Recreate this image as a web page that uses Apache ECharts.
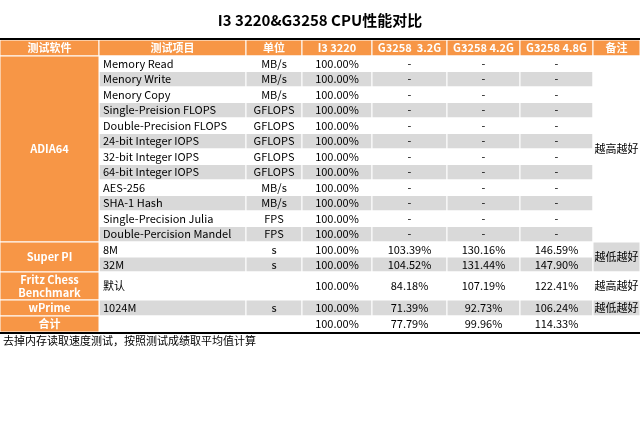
<!DOCTYPE html>
<html><head><meta charset="utf-8">
<script src="https://cdn.jsdelivr.net/npm/echarts@6/dist/echarts.min.js"></script>
<style>body{margin:0;background:#fff}#c{width:640px;height:427px}</style>
</head><body><div id="c"></div>
<script>
const title = "I3 3220&G3258 CPU性能对比";
const headers = ["测试软件", "测试项目", "单位", "I3 3220", "G3258  3.2G", "G3258 4.2G", "G3258 4.8G", "备注"];
const items = ["Memory Read", "Menory Write", "Menory Copy", "Single-Preision FLOPS", "Double-Precision FLOPS",
  "24-bit Integer IOPS", "32-bit Integer IOPS", "64-bit Integer IOPS", "AES-256", "SHA-1 Hash",
  "Single-Precision Julia", "Double-Percision Mandel", "8M", "32M", "默认", "1024M", ""];
const units = ["MB/s", "MB/s", "MB/s", "GFLOPS", "GFLOPS", "GFLOPS", "GFLOPS", "GFLOPS", "MB/s", "MB/s", "FPS", "FPS", "s", "s", "", "s", ""];
const i3 = Array(17).fill("100.00%");
const g32 = ["-", "-", "-", "-", "-", "-", "-", "-", "-", "-", "-", "-", "103.39%", "104.52%", "84.18%", "71.39%", "77.79%"];
const g42 = ["-", "-", "-", "-", "-", "-", "-", "-", "-", "-", "-", "-", "130.16%", "131.44%", "107.19%", "92.73%", "99.96%"];
const g48 = ["-", "-", "-", "-", "-", "-", "-", "-", "-", "-", "-", "-", "146.59%", "147.90%", "122.41%", "106.24%", "114.33%"];
// groups: [name, first row, row count, note]
const groups = [["ADIA64", 0, 12, "越高越好"], ["Super PI", 12, 2, "越低越好"], ["Fritz Chess\nBenchmark", 14, 1, "越高越好"],
  ["wPrime", 15, 1, "越低越好"], ["合计", 16, 1, ""]];
const footnote = "去掉内存读取速度测试，按照测试成绩取平均值计算";

const colX = [0, 99, 246, 302, 372, 447, 520, 593, 640];
const rowH = [15.5,15.5,15.5,15.5,15.5,15.5,15.5,15.5,15.5,15.5,15.5,15.5, 15, 15, 28, 16, 16];
const top0 = 56, headTop = 40;
const rowY = [top0];
rowH.forEach((h, i) => rowY.push(rowY[i] + h));
const orange = "#f79646", gray = "#d9d9d9";
const font = "'Noto Sans CJK SC', sans-serif";
const els = [];
function cell(x0, x1, y0, y1, fill, text, opt) {
  opt = opt || {};
  els.push({ type: "rect", shape: { x: x0, y: y0, width: x1 - x0, height: y1 - y0 },
    style: { fill: fill, stroke: "#fff", lineWidth: 1 } });
  if (text) els.push({ type: "text", x: opt.left ? x0 + 4 : (x0 + x1) / 2, y: (y0 + y1) / 2,
    style: { text: text, fill: opt.color || "#000", font: (opt.bold ? "bold " : "") + "11px " + font,
      align: opt.left ? "left" : "center", verticalAlign: "middle", lineHeight: 13 } });
}
headers.forEach((h, c) => cell(colX[c], colX[c + 1], headTop, top0, orange, h, { color: "#fff", bold: true }));
const cols = [items, units, i3, g32, g42, g48];
for (let r = 0; r < items.length; r++) {
  const fill = r % 2 ? gray : "#fff";
  cols.forEach((arr, k) => cell(colX[k + 1], colX[k + 2], rowY[r], rowY[r + 1], fill, arr[r], { left: k === 0 }));
}
groups.forEach((g, gi) => {
  const y0 = rowY[g[1]], y1 = rowY[g[1] + g[2]];
  cell(colX[0], colX[1], y0, y1, orange, g[0], { color: "#fff", bold: true });
  cell(colX[7], colX[8], y0, y1, gi % 2 ? gray : "#fff", g[3]);
});
els.push({ type: "rect", shape: { x: 0, y: headTop - 2, width: 640, height: 2 }, style: { fill: "#000" } });
els.push({ type: "rect", shape: { x: 0, y: rowY[17], width: 640, height: 2 }, style: { fill: "#000" } });
els.push({ type: "text", x: 3, y: rowY[17] + 9, style: { text: footnote, fill: "#000", font: "11px " + font, verticalAlign: "middle" } });

const chart = echarts.init(document.getElementById("c"));
chart.setOption({
  title: { text: title, left: "center", top: 8, textStyle: { fontSize: 15, fontWeight: "bold", color: "#000", fontFamily: font } },
  graphic: els
});
</script></body></html>
